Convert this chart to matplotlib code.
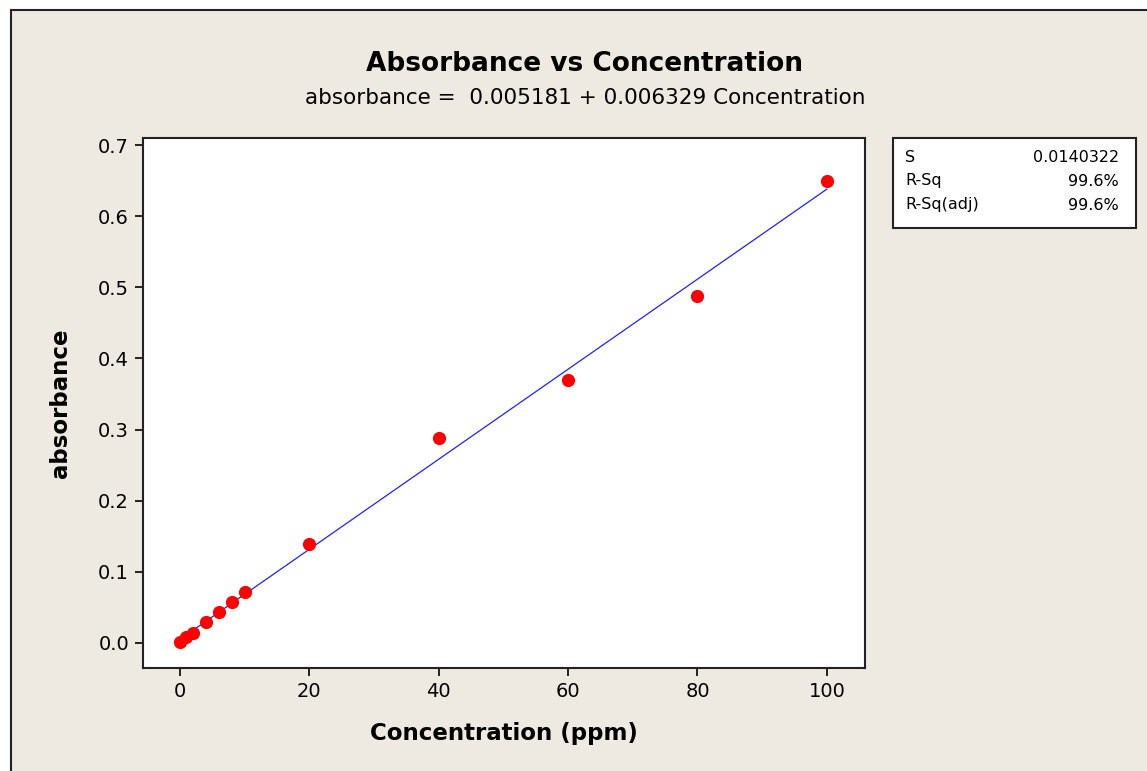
import matplotlib.pyplot as plt
from matplotlib.lines import Line2D

# calibration data
concentration = [0, 1, 2, 4, 6, 8, 10, 20, 40, 60, 80, 100]
absorbance = [0.001, 0.008, 0.014, 0.030, 0.044, 0.058, 0.072, 0.139, 0.288, 0.370, 0.488, 0.650]

intercept = 0.005181
slope = 0.006329
stat_names = ['S', 'R-Sq', 'R-Sq(adj)']
stat_values = ['0.0140322', '99.6%', '99.6%']

bg = '#EEEAE1'
W, H = 1147, 771

fig = plt.figure(figsize=(W / 100, H / 100), dpi=100, facecolor='white')
plt.rcParams['font.family'] = ['DejaVu Sans']

# panel background with a dark frame on the left and top
panel = plt.Rectangle((11 / W, 0), 1, 1 - 10 / H, transform=fig.transFigure,
                      facecolor=bg, edgecolor='none', zorder=-2)
fig.add_artist(panel)
fig.add_artist(Line2D([11 / W, 11 / W], [0, 1 - 10 / H], transform=fig.transFigure,
                      color='#222222', lw=1.5))
fig.add_artist(Line2D([11 / W, 1], [1 - 10 / H, 1 - 10 / H], transform=fig.transFigure,
                      color='#222222', lw=1.5))

ax = fig.add_axes([143 / W, 1 - 668 / H, (865 - 143) / W, (668 - 138) / H])
ax.set_facecolor('white')

fit_x = [0, 100]
fit_y = [intercept + slope * v for v in fit_x]
ax.plot(fit_x, fit_y, color='#2020ff', lw=0.9, zorder=2)
ax.plot(concentration, absorbance, 'o', color='#ff0000', markersize=9.5,
        markeredgewidth=0, zorder=3)

ax.set_xlim(-5.72, 105.9)
ax.set_ylim(-0.0352, 0.710)
ax.set_xticks([0, 20, 40, 60, 80, 100])
ax.set_yticks([0.0, 0.1, 0.2, 0.3, 0.4, 0.5, 0.6, 0.7])
ax.set_yticklabels(['0.0', '0.1', '0.2', '0.3', '0.4', '0.5', '0.6', '0.7'])
ax.tick_params(direction='out', length=6, width=1.2, labelsize=14, pad=4)
for s in ax.spines.values():
    s.set_linewidth(1.5)
    s.set_color('#222222')

ax.set_xlabel('Concentration (ppm)', fontsize=16.5, fontweight='bold', labelpad=15)
ax.set_ylabel('absorbance', fontsize=16.5, fontweight='bold', labelpad=19)

fig.text(585 / W, 1 - 64 / H, 'Absorbance vs Concentration', ha='center', va='center',
         fontsize=19, fontweight='bold')
fig.text(585 / W, 1 - 98 / H,
         'absorbance =  %.6f + %.6f Concentration' % (intercept, slope),
         ha='center', va='center', fontsize=15.5)

# summary statistics box
box = plt.Rectangle((893 / W, 1 - 228 / H), (1136 - 893) / W, 90 / H,
                    transform=fig.transFigure, facecolor='white',
                    edgecolor='#222222', lw=1.5)
fig.add_artist(box)
for i, (name, val) in enumerate(zip(stat_names, stat_values)):
    yy = 1 - (157 + 24 * i) / H
    fig.text(905 / W, yy, name, ha='left', va='center', fontsize=11.5)
    fig.text(1119 / W, yy, val, ha='right', va='center', fontsize=11.5)

fig.savefig('out.png', dpi=100, facecolor='white')
